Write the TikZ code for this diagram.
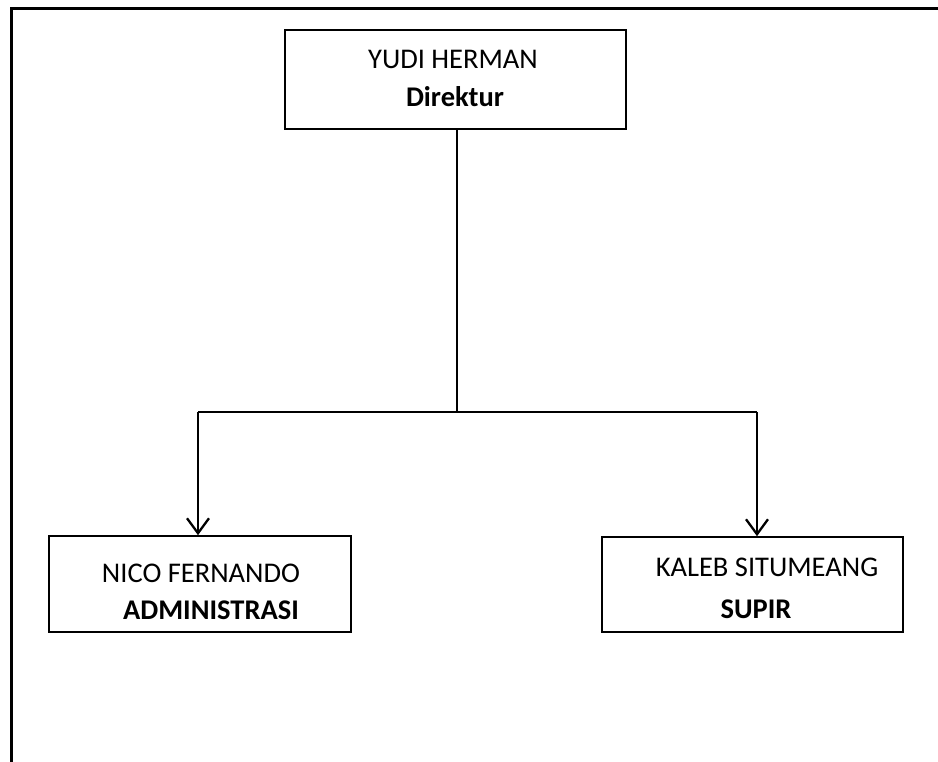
\documentclass[tikz,border=0pt]{standalone}
\usepackage{fontspec}
\setmainfont{Carlito}
\usetikzlibrary{arrows.meta}
\begin{document}
\begin{tikzpicture}[x=1pt,y=-1pt,
  box/.style={draw=black,line width=1.6pt,minimum width=#1,inner sep=0pt},
  txt/.style={inner sep=0pt,font=\fontsize{28.5}{31}\selectfont},
  conn/.style={line width=2.3pt},
  arr/.style={line width=2.3pt,-{Straight Barb[length=15pt,width=22pt,line width=2.3pt]}}]
\useasboundingbox (0,0) rectangle (938,762);
\draw[line width=3pt] (11,762) -- (11,9) -- (938,9);
% boxes
\node[box=341pt,minimum height=99pt] (top) at (455.5,79.5) {};
\node[box=302pt,minimum height=96pt] (left) at (200,584) {};
\node[box=301pt,minimum height=95pt] (right) at (752.5,584.5) {};
% texts
\node[txt] (t1) at (453,59) {YUDI HERMAN};
\node[txt] (t2) at (455,97) {\bfseries Direktur};
\node[txt] (l1) at (201,573) {NICO FERNANDO};
\node[txt] (l2) at (211,610) {\bfseries ADMINISTRASI};
\node[txt] (r1) at (767,567) {KALEB SITUMEANG};
\node[txt] (r2) at (756,609) {\bfseries SUPIR};
% connectors
\coordinate (j) at (457,412);
\coordinate (jl) at (198,412);
\coordinate (jr) at (757,412);
\draw[conn] (top.south -| j) -- (j);
\draw[conn] (jl) -- (jr);
\draw[arr] (jl) -- (jl |- left.north);
\draw[arr] (jr) -- (jr |- right.north);
\end{tikzpicture}
\end{document}
